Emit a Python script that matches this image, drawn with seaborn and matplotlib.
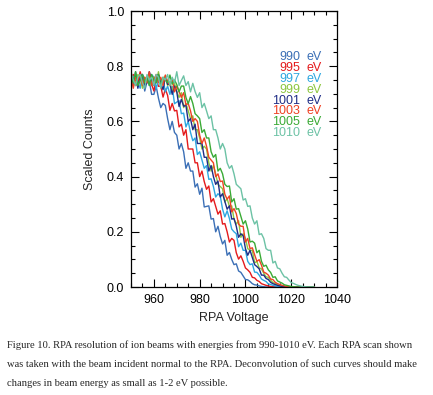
import numpy as np
import pandas as pd
import matplotlib
matplotlib.use("Agg")
import matplotlib.pyplot as plt
import seaborn as sns
from matplotlib.ticker import MultipleLocator

# ---------------- data ----------------
voltage = np.arange(950, 1031, 1)  # RPA voltage grid, 1 V steps

energies = ["990", "995", "997", "999", "1001", "1003", "1005", "1010"]
colors = ["#3b6fb6", "#e41a1c", "#2ea7e0", "#8cc63f",
          "#1f2d86", "#ef4123", "#3aaa35", "#6cc2a5"]

c990 = [0.76, 0.73, 0.78, 0.74, 0.748, 0.765, 0.71, 0.744, 0.747, 0.698,
        0.698, 0.727, 0.684, 0.65, 0.665, 0.658, 0.61, 0.57, 0.60, 0.56,
        0.55, 0.50, 0.52, 0.49, 0.43, 0.45, 0.42, 0.42, 0.362, 0.374,
        0.336, 0.358, 0.29, 0.292, 0.294, 0.246, 0.248, 0.20, 0.22, 0.183,
        0.156, 0.169, 0.115, 0.125, 0.10, 0.081, 0.084, 0.058, 0.053, 0.04,
        0.027, 0.026, 0.020, 0.012, 0.008, 0.007, 0.004, 0.002, 0.001,
        0, 0, 0, 0, 0, 0, 0, 0, 0, 0, 0, 0, 0, 0, 0, 0, 0, 0, 0, 0, 0, 0]

c995 = [0.76, 0.77, 0.73, 0.74, 0.78, 0.75, 0.73, 0.76, 0.768, 0.735,
        0.71, 0.754, 0.727, 0.728, 0.688, 0.717, 0.694, 0.64, 0.665, 0.638,
        0.64, 0.58, 0.59, 0.55, 0.57, 0.50, 0.50, 0.50, 0.45, 0.45,
        0.40, 0.42, 0.382, 0.354, 0.366, 0.308, 0.32, 0.292, 0.264, 0.276,
        0.228, 0.23, 0.20, 0.163, 0.176, 0.169, 0.124, 0.101, 0.113, 0.093,
        0.069, 0.062, 0.053, 0.035, 0.033, 0.024, 0.020, 0.012, 0.009, 0.006,
        0.004, 0.002, 0.001,
        0, 0, 0, 0, 0, 0, 0, 0, 0, 0, 0, 0, 0, 0, 0, 0, 0, 0]

c997 = [0.73, 0.76, 0.77, 0.74, 0.72, 0.77, 0.75, 0.76, 0.73, 0.77,
        0.76, 0.718, 0.755, 0.74, 0.754, 0.707, 0.728, 0.698, 0.727, 0.664,
        0.67, 0.675, 0.628, 0.63, 0.58, 0.60, 0.56, 0.53, 0.54, 0.48,
        0.49, 0.46, 0.43, 0.44, 0.39, 0.392, 0.364, 0.326, 0.338, 0.33,
        0.282, 0.254, 0.276, 0.248, 0.21, 0.20, 0.193, 0.146, 0.159, 0.133,
        0.133, 0.093, 0.081, 0.084, 0.054, 0.053, 0.043, 0.029, 0.024, 0.020,
        0.011, 0.009, 0.006, 0.004, 0.002, 0.001,
        0, 0, 0, 0, 0, 0, 0, 0, 0, 0, 0, 0, 0, 0, 0]

c999 = [0.75, 0.76, 0.73, 0.77, 0.76, 0.72, 0.76, 0.75, 0.77, 0.73,
        0.76, 0.74, 0.78, 0.73, 0.748, 0.765, 0.73, 0.744, 0.707, 0.738,
        0.708, 0.687, 0.704, 0.65, 0.665, 0.638, 0.61, 0.62, 0.57, 0.57,
        0.54, 0.50, 0.51, 0.50, 0.45, 0.42, 0.44, 0.41, 0.372, 0.364,
        0.356, 0.308, 0.32, 0.292, 0.294, 0.246, 0.228, 0.24, 0.18, 0.193,
        0.176, 0.139, 0.133, 0.133, 0.087, 0.093, 0.069, 0.066, 0.05, 0.037,
        0.035, 0.025, 0.016, 0.013, 0.009, 0.006, 0.004, 0.002, 0.001,
        0, 0, 0, 0, 0, 0, 0, 0, 0, 0, 0, 0]

c1001 = [0.74, 0.75, 0.77, 0.72, 0.76, 0.77, 0.73, 0.74, 0.78, 0.75,
         0.73, 0.76, 0.77, 0.738, 0.715, 0.76, 0.734, 0.737, 0.698, 0.728,
         0.707, 0.654, 0.68, 0.655, 0.658, 0.60, 0.61, 0.57, 0.59, 0.52,
         0.52, 0.52, 0.47, 0.47, 0.42, 0.44, 0.40, 0.372, 0.384, 0.326,
         0.338, 0.31, 0.282, 0.294, 0.246, 0.248, 0.22, 0.18, 0.193, 0.186,
         0.139, 0.115, 0.133, 0.107, 0.081, 0.074, 0.066, 0.043, 0.043, 0.031,
         0.027, 0.017, 0.012, 0.009, 0.006, 0.004, 0.002, 0.001,
         0, 0, 0, 0, 0, 0, 0, 0, 0, 0, 0, 0, 0]

c1003 = [0.76, 0.72, 0.76, 0.75, 0.77, 0.73, 0.76, 0.74, 0.78, 0.73,
         0.75, 0.77, 0.74, 0.76, 0.73, 0.768, 0.745, 0.73, 0.754, 0.707,
         0.728, 0.708, 0.687, 0.704, 0.66, 0.665, 0.638, 0.60, 0.61, 0.60,
         0.55, 0.52, 0.54, 0.51, 0.47, 0.46, 0.45, 0.40, 0.41, 0.382,
         0.384, 0.336, 0.318, 0.33, 0.272, 0.284, 0.266, 0.228, 0.22, 0.22,
         0.163, 0.176, 0.139, 0.142, 0.117, 0.093, 0.099, 0.079, 0.054, 0.05,
         0.043, 0.029, 0.027, 0.017, 0.012, 0.009, 0.006, 0.004, 0.002, 0.001,
         0, 0, 0, 0, 0, 0, 0, 0, 0, 0, 0]

c1005 = [0.76, 0.74, 0.78, 0.73, 0.75, 0.77, 0.74, 0.76, 0.73, 0.77,
         0.75, 0.74, 0.77, 0.73, 0.76, 0.75, 0.74, 0.768, 0.735, 0.75,
         0.734, 0.707, 0.728, 0.728, 0.687, 0.664, 0.69, 0.665, 0.628, 0.62,
         0.61, 0.56, 0.57, 0.54, 0.54, 0.49, 0.47, 0.48, 0.42, 0.43,
         0.41, 0.372, 0.364, 0.366, 0.308, 0.32, 0.282, 0.284, 0.256, 0.228,
         0.24, 0.21, 0.163, 0.166, 0.159, 0.124, 0.133, 0.093, 0.075, 0.079,
         0.062, 0.053, 0.035, 0.037, 0.022, 0.018, 0.014, 0.008, 0.006, 0.004,
         0.002, 0.001,
         0, 0, 0, 0, 0, 0, 0, 0, 0]

c1010 = [0.78, 0.75, 0.73, 0.76, 0.77, 0.74, 0.72, 0.77, 0.75, 0.76,
         0.73, 0.77, 0.76, 0.72, 0.76, 0.75, 0.77, 0.73, 0.76, 0.74,
         0.78, 0.73, 0.748, 0.765, 0.73, 0.744, 0.707, 0.738, 0.708, 0.687,
         0.704, 0.65, 0.665, 0.638, 0.61, 0.62, 0.57, 0.57, 0.54, 0.50,
         0.52, 0.50, 0.45, 0.43, 0.44, 0.41, 0.372, 0.364, 0.356, 0.315,
         0.32, 0.292, 0.294, 0.25, 0.228, 0.24, 0.19, 0.193, 0.176, 0.139,
         0.133, 0.133, 0.087, 0.093, 0.069, 0.066, 0.05, 0.037, 0.035, 0.025,
         0.016, 0.013, 0.009, 0.006, 0.004, 0.002, 0.001,
         0, 0, 0, 0]

curves = [c990, c995, c997, c999, c1001, c1003, c1005, c1010]

xticks = [960, 980, 1000, 1020, 1040]
yticks = [0.0, 0.2, 0.4, 0.6, 0.8, 1.0]

caption = [
    "Figure 10. RPA resolution of ion beams with energies from 990-1010 eV. Each RPA scan shown",
    "was taken with the beam incident normal to the RPA. Deconvolution of such curves should make",
    "changes in beam energy as small as 1-2 eV possible.",
]

# ---------------- build long table ----------------
frames = []
for e, vals in zip(energies, curves):
    frames.append(pd.DataFrame({"voltage": voltage, "counts": vals, "energy": e}))
df = pd.concat(frames, ignore_index=True)

# ---------------- plot ----------------
sns.set_theme(style="ticks")
plt.rcParams["font.family"] = ["Liberation Sans", "DejaVu Sans"]

W, H = 433, 395
fig = plt.figure(figsize=(W / 100, H / 100), dpi=100)
ax = fig.add_axes([131 / W, 1 - 287 / H, (337 - 131) / W, (287 - 11) / H])

sns.lineplot(data=df, x="voltage", y="counts", hue="energy",
             hue_order=energies, palette=colors, linewidth=1.0,
             legend=False, ax=ax, estimator=None, sort=False)

ax.set_xlim(950, 1040)
ax.set_ylim(0, 1.0)
ax.set_xticks(xticks)
ax.set_yticks(yticks)
ax.set_xticklabels([str(t) for t in xticks])
ax.set_yticklabels([f"{t:.1f}" for t in yticks])
ax.xaxis.set_minor_locator(MultipleLocator(5))
ax.yaxis.set_minor_locator(MultipleLocator(0.05))
ax.tick_params(which="both", direction="in", top=True, right=True,
               colors="black", labelsize=9, width=0.8)
ax.tick_params(which="major", length=6, pad=5)
ax.tick_params(which="minor", length=3)
for s in ax.spines.values():
    s.set_visible(True)
    s.set_color("black")
    s.set_linewidth(0.9)

ax.set_xlabel("RPA Voltage", fontsize=9, labelpad=4)
ax.set_ylabel("Scaled Counts", fontsize=9, labelpad=8)

# legend-like labels
for i, (e, c) in enumerate(zip(energies, colors)):
    yc = 1 - (57 + 10.9 * i - 11) / 276
    ax.text(0.82, yc, e, color=c, fontsize=9, ha="right", va="center",
            transform=ax.transAxes)
    ax.text(0.85, yc, "eV", color=c, fontsize=9, ha="left", va="center",
            transform=ax.transAxes)

# caption
for i, line in enumerate(caption):
    fig.text(7 / W, 1 - (345 + 19.5 * i) / H, line, fontsize=7.6,
             family=["Liberation Serif", "DejaVu Serif"], ha="left", va="center")

fig.savefig("out.png", dpi=100, facecolor="white")
